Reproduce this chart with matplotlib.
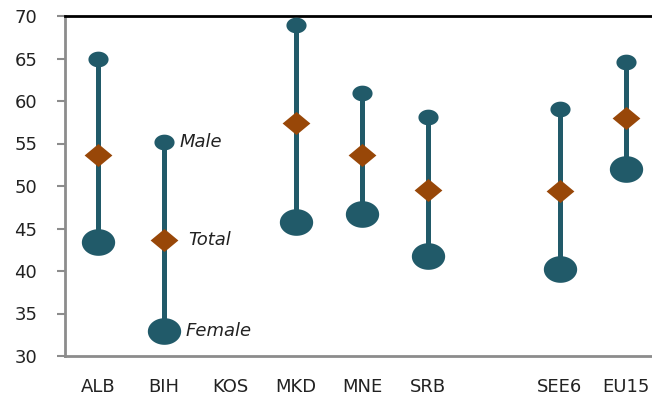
import numpy as np
import matplotlib.pyplot as plt
from matplotlib.path import Path

plt.rcParams["font.family"] = ["DejaVu Sans"]
plt.rcParams["text.color"] = "#222222"
plt.rcParams["xtick.labelcolor"] = "#222222"
plt.rcParams["ytick.labelcolor"] = "#222222"

# Age values per country group (KOS has no data, blank slot before SEE6)
labels = ["ALB", "BIH", "KOS", "MKD", "MNE", "SRB", "", "SEE6", "EU15"]
male = [65.0, 55.2, np.nan, 69.0, 61.0, 58.1, np.nan, 59.1, 64.6]
total = [53.6, 43.6, np.nan, 57.4, 53.6, 49.5, np.nan, 49.4, 58.0]
female = [43.4, 33.0, np.nan, 45.8, 46.7, 41.8, np.nan, 40.2, 52.0]

TEAL = "#215a69"
RUST = "#984708"
GREY = "#8c8c8c"


def ellipse_marker(ratio):
    t = np.linspace(0, 2 * np.pi, 60)
    return Path(np.column_stack([np.cos(t), ratio * np.sin(t)]), closed=True)


def diamond_marker(ratio):
    verts = [(0, ratio), (1, 0), (0, -ratio), (-1, 0), (0, ratio)]
    return Path(verts, closed=True)


x = np.arange(len(labels))

fig = plt.figure(figsize=(6.52, 3.96), dpi=100)
ax = fig.add_axes([65 / 652, 1 - 356 / 396, 594 / 652, 340 / 396])

for xi, lo, hi in zip(x, female, male):
    if np.isnan(lo):
        continue
    ax.plot([xi, xi], [lo, hi], color=TEAL, lw=3.6, solid_capstyle="butt", zorder=1)

ax.plot(x, male, ls="none", marker=ellipse_marker(0.78), ms=14.5,
        color=TEAL, mec="none", zorder=3)
ax.plot(x, female, ls="none", marker=ellipse_marker(0.8), ms=24,
        color=TEAL, mec="none", zorder=3)
ax.plot(x, total, ls="none", marker=diamond_marker(0.83), ms=20,
        color=RUST, mec="none", zorder=4)

# series labels beside BIH
ax.text(1.24, male[1], "Male", style="italic", fontsize=13, va="center", ha="left")
ax.text(1.36, total[1], "Total", style="italic", fontsize=13, va="center", ha="left")
ax.text(1.33, female[1], "Female", style="italic", fontsize=13, va="center", ha="left")

ax.set_xlim(-0.5, 8.5)
ax.set_ylim(30, 70)
ax.set_yticks(np.arange(30, 71, 5))
ax.set_xticks(x)
ax.set_xticklabels(labels)
ax.tick_params(axis="y", length=6, width=1.5, color=GREY, pad=14, labelsize=13)
ax.tick_params(axis="x", length=0, pad=16, labelsize=13)

ax.spines["right"].set_visible(False)
ax.spines["top"].set_color("black")
ax.spines["top"].set_linewidth(2)
for side in ("left", "bottom"):
    ax.spines[side].set_color(GREY)
    ax.spines[side].set_linewidth(2)

fig.savefig("out.png", dpi=100)
